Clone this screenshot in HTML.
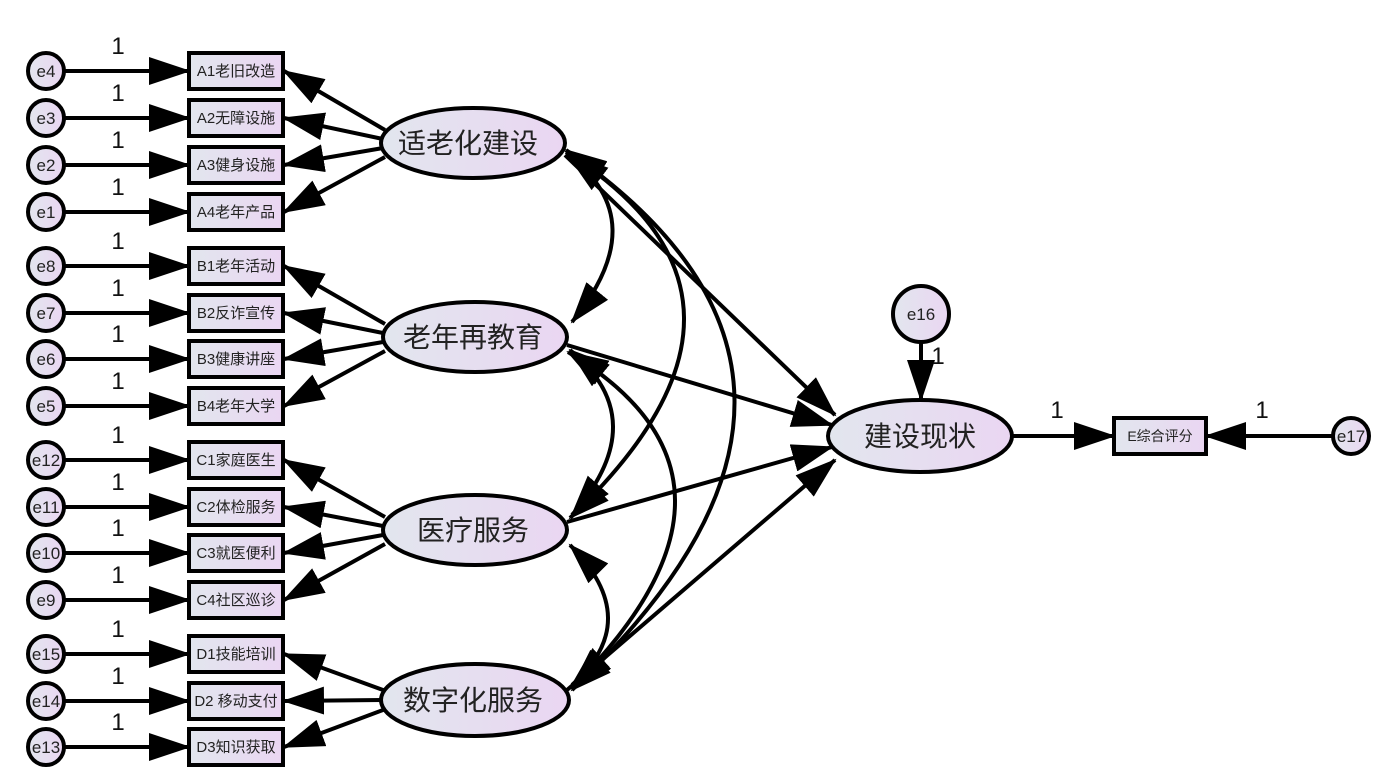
<!DOCTYPE html>
<html><head><meta charset="utf-8"><style>
html,body{margin:0;padding:0;background:#fff;}
svg{display:block;font-family:"Liberation Sans","Noto Sans CJK SC",sans-serif;}
</style></head><body>
<svg width="1387" height="780" viewBox="0 0 1387 780" xmlns="http://www.w3.org/2000/svg">
<defs>
<linearGradient id="g" x1="0" x2="1" y1="0" y2="0"><stop offset="0" stop-color="#e2e6ee"/><stop offset="1" stop-color="#ead6f2"/></linearGradient>
<marker id="ah" markerWidth="42" markerHeight="28" refX="40" refY="14" orient="auto-start-reverse" markerUnits="userSpaceOnUse"><path d="M0,0 L42,14 L0,28 Z" fill="#000"/></marker>
</defs>
<g stroke="#000" stroke-width="4" fill="none">
<g marker-end="url(#ah)">
<line x1="64" y1="71" x2="189" y2="71"/><line x1="64" y1="118" x2="189" y2="118"/><line x1="64" y1="165" x2="189" y2="165"/><line x1="64" y1="212" x2="189" y2="212"/>
<line x1="64" y1="266" x2="189" y2="266"/><line x1="64" y1="313" x2="189" y2="313"/><line x1="64" y1="359" x2="189" y2="359"/><line x1="64" y1="406" x2="189" y2="406"/>
<line x1="64" y1="460" x2="189" y2="460"/><line x1="64" y1="507" x2="189" y2="507"/><line x1="64" y1="553" x2="189" y2="553"/><line x1="64" y1="600" x2="189" y2="600"/>
<line x1="64" y1="654" x2="189" y2="654"/><line x1="64" y1="701" x2="189" y2="701"/><line x1="64" y1="747" x2="189" y2="747"/>
<line x1="385" y1="130" x2="284" y2="71"/><line x1="383" y1="139" x2="284" y2="118"/><line x1="383" y1="148" x2="284" y2="165"/><line x1="385" y1="157" x2="284" y2="212"/>
<line x1="385" y1="324" x2="284" y2="266"/><line x1="383" y1="333" x2="284" y2="313"/><line x1="383" y1="342" x2="284" y2="359"/><line x1="385" y1="351" x2="284" y2="406"/>
<line x1="385" y1="517" x2="284" y2="460"/><line x1="383" y1="526" x2="284" y2="507"/><line x1="383" y1="535" x2="284" y2="553"/><line x1="385" y1="544" x2="284" y2="600"/>
<line x1="383" y1="690" x2="284" y2="654"/><line x1="382" y1="700" x2="284" y2="701"/><line x1="383" y1="710" x2="284" y2="747"/>
<line x1="565" y1="155" x2="835" y2="415"/><line x1="567" y1="345" x2="832" y2="425"/><line x1="567" y1="522" x2="832" y2="447"/><line x1="567" y1="690" x2="835" y2="460"/>
<line x1="921" y1="342" x2="921" y2="400"/>
<line x1="1013" y1="436" x2="1114" y2="436"/>
<line x1="1333" y1="436" x2="1206" y2="436"/>
</g>
<g marker-start="url(#ah)" marker-end="url(#ah)">
<path d="M568,155 Q655,220 572,322"/>
<path d="M566,152 Q800,300 570,518"/>
<path d="M566,150 Q900,380 572,690"/>
<path d="M570,350 Q655,420 572,515"/>
<path d="M568,352 Q780,480 572,688"/>
<path d="M570,545 Q645,620 572,685"/>
</g>
</g>
<g fill="url(#g)" stroke="#000" stroke-width="4">
<circle cx="46" cy="71" r="18"/><circle cx="46" cy="118" r="18"/><circle cx="46" cy="165" r="18"/><circle cx="46" cy="212" r="18"/>
<circle cx="46" cy="266" r="18"/><circle cx="46" cy="313" r="18"/><circle cx="46" cy="359" r="18"/><circle cx="46" cy="406" r="18"/>
<circle cx="46" cy="460" r="18"/><circle cx="46" cy="507" r="18"/><circle cx="46" cy="553" r="18"/><circle cx="46" cy="600" r="18"/>
<circle cx="46" cy="654" r="18"/><circle cx="46" cy="701" r="18"/><circle cx="46" cy="747" r="18"/>
<circle cx="921" cy="314" r="28"/><circle cx="1351" cy="436" r="18"/>
<rect x="189" y="53" width="94" height="36"/><rect x="189" y="100" width="94" height="36"/><rect x="189" y="147" width="94" height="36"/><rect x="189" y="194" width="94" height="36"/>
<rect x="189" y="248" width="94" height="36"/><rect x="189" y="295" width="94" height="36"/><rect x="189" y="341" width="94" height="36"/><rect x="189" y="388" width="94" height="36"/>
<rect x="189" y="442" width="94" height="36"/><rect x="189" y="489" width="94" height="36"/><rect x="189" y="535" width="94" height="36"/><rect x="189" y="582" width="94" height="36"/>
<rect x="189" y="636" width="94" height="36"/><rect x="189" y="683" width="94" height="36"/><rect x="189" y="729" width="94" height="36"/>
<rect x="1114" y="418" width="92" height="36"/>
<ellipse cx="473" cy="143" rx="92" ry="35"/><ellipse cx="475" cy="337" rx="92" ry="35"/><ellipse cx="475" cy="530" rx="92" ry="35"/><ellipse cx="475" cy="700" rx="94" ry="36"/>
<ellipse cx="920" cy="436" rx="92" ry="36"/>
</g>
<g font-size="17" text-anchor="middle" fill="#222">
<text x="46" y="77">e4</text><text x="46" y="124">e3</text><text x="46" y="171">e2</text><text x="46" y="218">e1</text>
<text x="46" y="272">e8</text><text x="46" y="319">e7</text><text x="46" y="365">e6</text><text x="46" y="412">e5</text>
<text x="46" y="466">e12</text><text x="46" y="513">e11</text><text x="46" y="559">e10</text><text x="46" y="606">e9</text>
<text x="46" y="660">e15</text><text x="46" y="707">e14</text><text x="46" y="753">e13</text>
<text x="921" y="320">e16</text><text x="1351" y="442">e17</text>
</g>
<g font-size="24" text-anchor="middle" fill="#111">
<text x="118" y="54">1</text><text x="118" y="101">1</text><text x="118" y="148">1</text><text x="118" y="195">1</text>
<text x="118" y="249">1</text><text x="118" y="296">1</text><text x="118" y="342">1</text><text x="118" y="389">1</text>
<text x="118" y="443">1</text><text x="118" y="490">1</text><text x="118" y="536">1</text><text x="118" y="583">1</text>
<text x="118" y="637">1</text><text x="118" y="684">1</text><text x="118" y="730">1</text>
<text x="938" y="364">1</text><text x="1057" y="418">1</text><text x="1262" y="418">1</text>
</g>
<g font-size="15" text-anchor="middle" fill="#222">
<text x="236" y="76">A1老旧改造</text><text x="236" y="123">A2无障设施</text><text x="236" y="170">A3健身设施</text><text x="236" y="217">A4老年产品</text>
<text x="236" y="271">B1老年活动</text><text x="236" y="318">B2反诈宣传</text><text x="236" y="364">B3健康讲座</text><text x="236" y="411">B4老年大学</text>
<text x="236" y="465">C1家庭医生</text><text x="236" y="512">C2体检服务</text><text x="236" y="558">C3就医便利</text><text x="236" y="605">C4社区巡诊</text>
<text x="236" y="659">D1技能培训</text><text x="236" y="706">D2 移动支付</text><text x="236" y="752">D3知识获取</text>
<text x="1160" y="441" font-size="14">E综合评分</text>
</g>
<g font-size="28" text-anchor="middle" fill="#222">
<text x="468" y="153">适老化建设</text><text x="473" y="347">老年再教育</text><text x="473" y="540">医疗服务</text><text x="473" y="710">数字化服务</text>
<text x="920" y="446">建设现状</text>
</g>
</svg>
</body></html>
